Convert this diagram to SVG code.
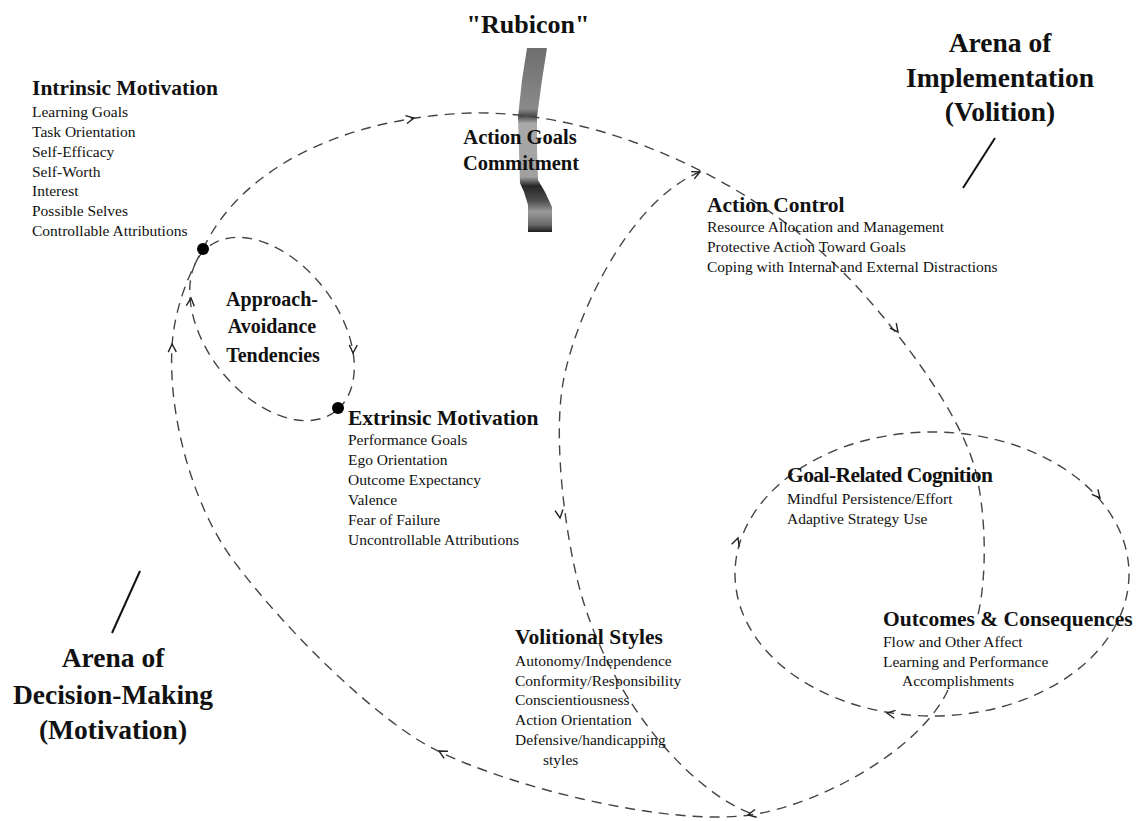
<svg xmlns="http://www.w3.org/2000/svg" xmlns:xlink="http://www.w3.org/1999/xlink" width="1146" height="821" viewBox="0 0 1146 821">
<style>
  text { font-family: "Liberation Serif", "Times New Roman", serif; fill: #111; }
  .h { font-weight: bold; font-size: 21.5px; }
  .b { font-size: 15.5px; }
  .big { font-weight: bold; font-size: 27.5px; }
  .mid { font-weight: bold; font-size: 20px; }
  .dash { fill: none; stroke: #444; stroke-width: 1.4; stroke-dasharray: 10 7; }
  .lead { stroke: #111; stroke-width: 2; fill: none; }
  .c { text-anchor: middle; }
</style>
<defs>
  <path id="ah" d="M-8,-4 L0,0 L-8,4" fill="none" stroke="#222" stroke-width="1.4"/>
  <linearGradient id="rub" gradientUnits="userSpaceOnUse" x1="0" y1="48" x2="0" y2="232">
    <stop offset="0" stop-color="#6e6e6e"/>
    <stop offset="0.33" stop-color="#8a8a8a"/>
    <stop offset="0.37" stop-color="#4a4a4a"/>
    <stop offset="0.41" stop-color="#a9a9a9"/>
    <stop offset="0.70" stop-color="#a0a0a0"/>
    <stop offset="0.75" stop-color="#262626"/>
    <stop offset="0.83" stop-color="#4e4e4e"/>
    <stop offset="0.89" stop-color="#9a9a9a"/>
    <stop offset="0.96" stop-color="#6a6a6a"/>
    <stop offset="1" stop-color="#1e1e1e"/>
  </linearGradient>
</defs>
<rect width="1146" height="821" fill="#fff"/>

<g id="rubicon">
  <path d="M527,48 L547,48 L542,80 L537,117 L537,150 L538,180 L545,192 L552,207 L552,232 L528,232 L528,205 L524,192 L520,183 L519,150 L518,117 L522,80 Z" fill="url(#rub)"/>
  <text class="c" x="528" y="33" font-weight="bold" font-size="26">"Rubicon"</text>
</g>

<g id="connectors">
  <path class="dash" d="M203,249 C240,170 340,118 470,113 C600,110 760,180 860,290 C905,340 965,420 977,477 C987,525 986,580 978,615"/>
  <path class="dash" d="M948,690 C920,750 820,805 750,815 C670,826 520,790 440,752 C380,724 285,630 233,560 C195,509 168,420 172,347 C174,310 188,275 203,249"/>
  <path class="dash" d="M750,813 C690,790 610,700 580,590 C565,535 553,440 563,383 C575,315 630,200 700,172"/>
  <ellipse class="dash" cx="272" cy="329" rx="104" ry="66" transform="rotate(52.3 272 329)"/>
  <ellipse class="dash" cx="932" cy="574" rx="197" ry="142"/>
  <circle cx="203" cy="249" r="6" fill="#000"/>
  <circle cx="338" cy="408" r="6" fill="#000"/>
  <use xlink:href="#ah" transform="translate(414,118) rotate(-11)"/>
  <use xlink:href="#ah" transform="translate(700,172) rotate(-24)"/>
  <use xlink:href="#ah" transform="translate(898,332) rotate(52)"/>
  <use xlink:href="#ah" transform="translate(1100,498) rotate(50)"/>
  <use xlink:href="#ah" transform="translate(738,538) rotate(-71)"/>
  <use xlink:href="#ah" transform="translate(887,713) rotate(189)"/>
  <use xlink:href="#ah" transform="translate(748,815) rotate(168)"/>
  <use xlink:href="#ah" transform="translate(439,751) rotate(-152)"/>
  <use xlink:href="#ah" transform="translate(172,344) rotate(-92)"/>
  <use xlink:href="#ah" transform="translate(191,298) rotate(-85)"/>
  <use xlink:href="#ah" transform="translate(353,353) rotate(92)"/>
  <use xlink:href="#ah" transform="translate(560,518) rotate(83)"/>
  <line class="lead" x1="995" y1="138" x2="963" y2="188"/>
  <line class="lead" x1="140" y1="571" x2="112" y2="633"/>
</g>

<g id="arena-implementation">
  <text class="big c" x="1000" y="52">Arena of</text>
  <text class="big c" x="1000" y="87">Implementation</text>
  <text class="big c" x="1000" y="121">(Volition)</text>
</g>

<g id="arena-decision">
  <text class="big c" x="113" y="667">Arena of</text>
  <text class="big c" x="113" y="704">Decision-Making</text>
  <text class="big c" x="113" y="739">(Motivation)</text>
</g>

<g id="action-goals">
  <text class="c" x="520" y="144" font-weight="bold" font-size="20.5">Action Goals</text>
  <text class="c" x="521" y="170" font-weight="bold" font-size="20.5">Commitment</text>
</g>

<g id="intrinsic">
  <text class="h" x="32" y="95" textLength="186">Intrinsic Motivation</text>
  <text class="b" x="32" y="117">Learning Goals</text>
  <text class="b" x="32" y="137">Task Orientation</text>
  <text class="b" x="32" y="157">Self-Efficacy</text>
  <text class="b" x="32" y="177">Self-Worth</text>
  <text class="b" x="32" y="196">Interest</text>
  <text class="b" x="32" y="216">Possible Selves</text>
  <text class="b" x="32" y="236">Controllable Attributions</text>
</g>

<g id="approach">
  <text class="mid c" x="272" y="306">Approach-</text>
  <text class="mid c" x="272" y="333">Avoidance</text>
  <text class="mid c" x="273" y="362">Tendencies</text>
</g>

<g id="extrinsic">
  <text class="h" x="348" y="425">Extrinsic Motivation</text>
  <text class="b" x="348" y="445">Performance Goals</text>
  <text class="b" x="348" y="465">Ego Orientation</text>
  <text class="b" x="348" y="485">Outcome Expectancy</text>
  <text class="b" x="348" y="505">Valence</text>
  <text class="b" x="348" y="525">Fear of Failure</text>
  <text class="b" x="348" y="545">Uncontrollable Attributions</text>
</g>

<g id="action-control">
  <text class="h" x="707" y="212">Action Control</text>
  <text class="b" x="707" y="232">Resource Allocation and Management</text>
  <text class="b" x="707" y="252">Protective Action Toward Goals</text>
  <text class="b" x="707" y="272">Coping with Internal and External Distractions</text>
</g>

<g id="goal-cognition">
  <text class="h" x="787" y="482" textLength="206">Goal-Related Cognition</text>
  <text class="b" x="787" y="504">Mindful Persistence/Effort</text>
  <text class="b" x="787" y="524">Adaptive Strategy Use</text>
</g>

<g id="outcomes">
  <text class="h" x="883" y="626">Outcomes &amp; Consequences</text>
  <text class="b" x="883" y="647">Flow and Other Affect</text>
  <text class="b" x="883" y="667">Learning and Performance</text>
  <text class="b" x="902" y="686">Accomplishments</text>
</g>

<g id="volitional">
  <text class="h" x="515" y="644">Volitional Styles</text>
  <text class="b" x="515" y="666">Autonomy/Independence</text>
  <text class="b" x="515" y="686">Conformity/Responsibility</text>
  <text class="b" x="515" y="705">Conscientiousness</text>
  <text class="b" x="515" y="725">Action Orientation</text>
  <text class="b" x="515" y="745">Defensive/handicapping</text>
  <text class="b" x="543" y="765">styles</text>
</g>
</svg>
